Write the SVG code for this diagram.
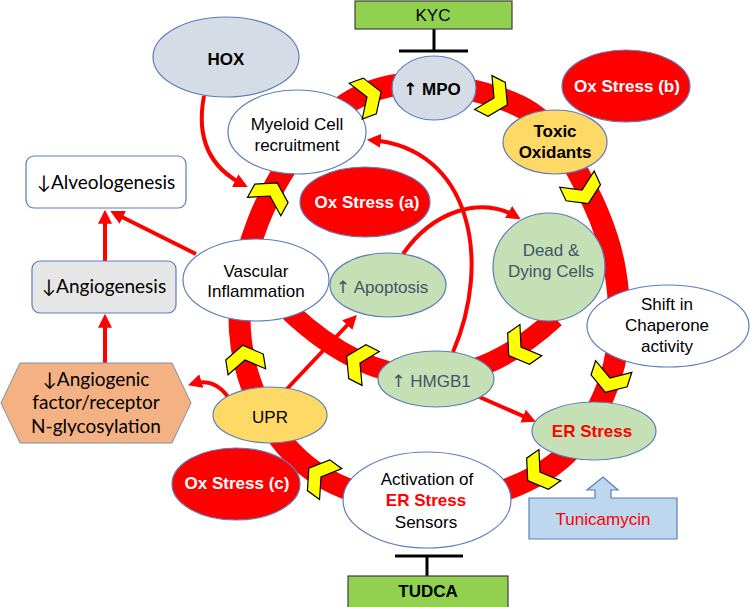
<svg xmlns="http://www.w3.org/2000/svg" xmlns:xlink="http://www.w3.org/1999/xlink" width="750" height="607" viewBox="0 0 750 607">
<style>
.nd{stroke:#5a7dbd;stroke-width:1.2}
.w{fill:#ffffff}
.g{fill:#c5e0b4}
.b{fill:#d6dce5}
.y{fill:#ffd966}
.r{fill:#ff0000}
.t{font-family:"Liberation Sans",Arial,sans-serif;font-size:17px;text-anchor:middle;fill:#000}
.bd{font-weight:bold}
.wt{fill:#ffffff}
.gt{fill:#44546a}
.rt{fill:#ff0000}
.ar{font-family:"DejaVu Sans",sans-serif}
.c{font-family:Lato,"Open Sans",sans-serif;font-size:19px;text-anchor:middle;fill:#000}
.thin{fill:none;stroke:#ff0000;stroke-width:4;marker-end:url(#ah)}
.chev{fill:#ffff00;stroke:#000;stroke-width:1.2;stroke-linejoin:miter}
.tbar{stroke:#000;stroke-width:3;fill:none}
</style>
<defs>
<marker id="ah" viewBox="0 0 10 10" refX="7" refY="5" markerWidth="14" markerHeight="14" markerUnits="userSpaceOnUse" orient="auto">
<path d="M0,0 L10,5 L0,10 Z" fill="#ff0000"/>
</marker>
<polygon id="chv" points="-12,-19 3,-19 15,0 3,19 -12,19 0,0"/>
</defs>

<g id="connectors">
<path id="ring" d="M434,84 C462.3,86.7 505.3,96 530,112 C554.7,128 567.8,153.7 582,180 C596.2,206.3 609.7,239.2 615,270 C620.3,300.8 621.2,335.3 614,365 C606.8,394.7 590.2,427.2 572,448 C553.8,468.8 529,481.2 505,490 C481,498.8 454.7,501.3 428,501 C401.3,500.7 368.8,497.3 345,488 C321.2,478.7 301.2,463.8 285,445 C268.8,426.2 255.5,399.2 248,375 C240.5,350.8 238.3,325.5 240,300 C241.7,274.5 248,247.3 258,222 C268,196.7 283,169 300,148 C317,127 337.7,106.7 360,96 C382.3,85.3 405.7,81.3 434,84 Z" fill="none" stroke="#ff0000" stroke-width="22"/>
<path id="innerArc" d="M290,312 Q425,438 555,318" fill="none" stroke="#ff0000" stroke-width="20"/>
<path class="thin" d="M204,96 C196,138 210,168 244,185"/>
<path class="thin" d="M196,254 L114,213"/>
<path class="thin" d="M105,261 L105,214"/>
<path class="thin" d="M105,363 L105,318"/>
<path class="thin" d="M228,397 Q214,377 192,384"/>
<path class="thin" d="M284,392 L354,318"/>
<path class="thin" d="M403,254 C432,212 480,195 517,217"/>
<path class="thin" d="M453,352 C492,262 472,148 371,140"/>
<path class="thin" d="M468,392 L532,420"/>
<path class="tbar" d="M434,29 V51 M399,51 H468"/>
<path class="tbar" d="M427,576 V556 M395,556 H463"/>
</g>

<g id="KYC">
<rect x="355" y="1" width="157" height="28" fill="#92d050" stroke="#3f3f3f" stroke-width="1.2"/>
<text class="t" x="433" y="21">KYC</text>
</g>
<g id="TUDCA">
<rect x="348" y="576" width="160" height="34" fill="#92d050" stroke="#3f3f3f" stroke-width="1.2"/>
<text class="t bd" x="428" y="597">TUDCA</text>
</g>
<g id="HOX">
<ellipse class="nd b" cx="226" cy="57" rx="73" ry="40"/>
<text class="t bd" x="226" y="65">HOX</text>
</g>
<g id="Myeloid">
<ellipse class="nd w" cx="297" cy="132" rx="69" ry="42"/>
<text class="t" x="297" y="130">Myeloid Cell</text>
<text class="t" x="297" y="151">recruitment</text>
</g>
<g id="MPO">
<ellipse class="nd b" cx="434" cy="88" rx="42" ry="32"/>
<text class="t bd" x="432" y="95"><tspan class="ar">↑</tspan> MPO</text>
</g>
<g id="OxStressB">
<ellipse class="nd r" cx="626" cy="86" rx="64" ry="36"/>
<text class="t bd wt" x="627" y="92">Ox Stress (b)</text>
</g>
<g id="ToxicOxidants">
<ellipse class="nd y" cx="555" cy="142" rx="52" ry="32"/>
<text class="t bd" x="555" y="137">Toxic</text>
<text class="t bd" x="555" y="158">Oxidants</text>
</g>
<g id="Alveologenesis">
<rect class="nd w" x="26" y="156" width="160" height="52" rx="8"/>
<text class="c" x="106" y="189">↓Alveologenesis</text>
</g>
<g id="Angiogenesis">
<rect class="nd" x="32" y="261" width="144" height="52" rx="8" fill="#e7e6e6"/>
<text class="c" x="104" y="293">↓Angiogenesis</text>
</g>
<g id="Glycosylation">
<polygon points="20,363 172,363 191,403 172,443 20,443 1,403" fill="#f4b183" stroke="#7f8fa6" stroke-width="1"/>
<text class="c" x="96" y="386">↓Angiogenic</text>
<text class="c" x="96" y="409">factor/receptor</text>
<text class="c" x="96" y="433">N-glycosylation</text>
</g>
<g id="VascularInflammation">
<ellipse class="nd w" cx="256" cy="280" rx="73" ry="41"/>
<text class="t" x="256" y="277">Vascular</text>
<text class="t" x="256" y="297">Inflammation</text>
</g>
<g id="OxStressA">
<ellipse class="nd r" cx="365" cy="202" rx="65" ry="35"/>
<text class="t bd wt" x="367" y="208">Ox Stress (a)</text>
</g>
<g id="Apoptosis">
<ellipse class="nd g" cx="388" cy="285" rx="58" ry="32"/>
<text class="t gt" x="382" y="293"><tspan class="ar">↑</tspan> Apoptosis</text>
</g>
<g id="DeadDying">
<ellipse class="nd g" cx="549" cy="267" rx="56" ry="54"/>
<text class="t gt" x="551" y="256">Dead &amp;</text>
<text class="t gt" x="551" y="277">Dying Cells</text>
</g>
<g id="Chaperone">
<ellipse class="nd w" cx="668" cy="326" rx="81" ry="41"/>
<text class="t" x="667" y="310">Shift in</text>
<text class="t" x="667" y="331">Chaperone</text>
<text class="t" x="667" y="352">activity</text>
</g>
<g id="HMGB1">
<ellipse class="nd g" cx="436" cy="379" rx="58" ry="28"/>
<text class="t gt" x="431" y="387"><tspan class="ar">↑</tspan> HMGB1</text>
</g>
<g id="ERStress">
<ellipse class="nd g" cx="594" cy="431" rx="62" ry="29"/>
<text class="t bd rt" x="592" y="437">ER Stress</text>
</g>
<g id="UPR">
<ellipse class="nd y" cx="270" cy="415" rx="57" ry="28"/>
<text class="t" x="270" y="423">UPR</text>
</g>
<g id="OxStressC">
<ellipse class="nd r" cx="236" cy="484" rx="64" ry="36"/>
<text class="t bd wt" x="237" y="489">Ox Stress (c)</text>
</g>
<g id="Sensors">
<ellipse class="nd w" cx="427" cy="500" rx="84" ry="48"/>
<text class="t" x="427" y="485">Activation of</text>
<text class="t bd rt" x="426" y="506">ER Stress</text>
<text class="t" x="426" y="528">Sensors</text>
</g>
<g id="Tunicamycin">
<path class="nd" d="M529,498 H595 V490 H587 L603,477 L618,490 H611 V498 H677 V539 H529 Z" fill="#bdd7ee"/>
<text class="t rt" x="603" y="525">Tunicamycin</text>
</g>

<g id="chevrons">
<use class="chev" xlink:href="#chv" transform="translate(367,97) rotate(-20)"/>
<use class="chev" xlink:href="#chv" transform="translate(494,98) rotate(27)"/>
<use class="chev" xlink:href="#chv" transform="translate(582,190) rotate(65)"/>
<use class="chev" xlink:href="#chv" transform="translate(610,378) rotate(108)"/>
<use class="chev" xlink:href="#chv" transform="translate(540,472) rotate(145)"/>
<use class="chev" xlink:href="#chv" transform="translate(321,477) rotate(-144)"/>
<use class="chev" xlink:href="#chv" transform="translate(245,360) rotate(-99)"/>
<use class="chev" xlink:href="#chv" transform="translate(270,196) rotate(-61)"/>
<use class="chev" xlink:href="#chv" transform="translate(521,347) rotate(145)"/>
<use class="chev" xlink:href="#chv" transform="translate(360,363) rotate(-153)"/>
</g>
</svg>
